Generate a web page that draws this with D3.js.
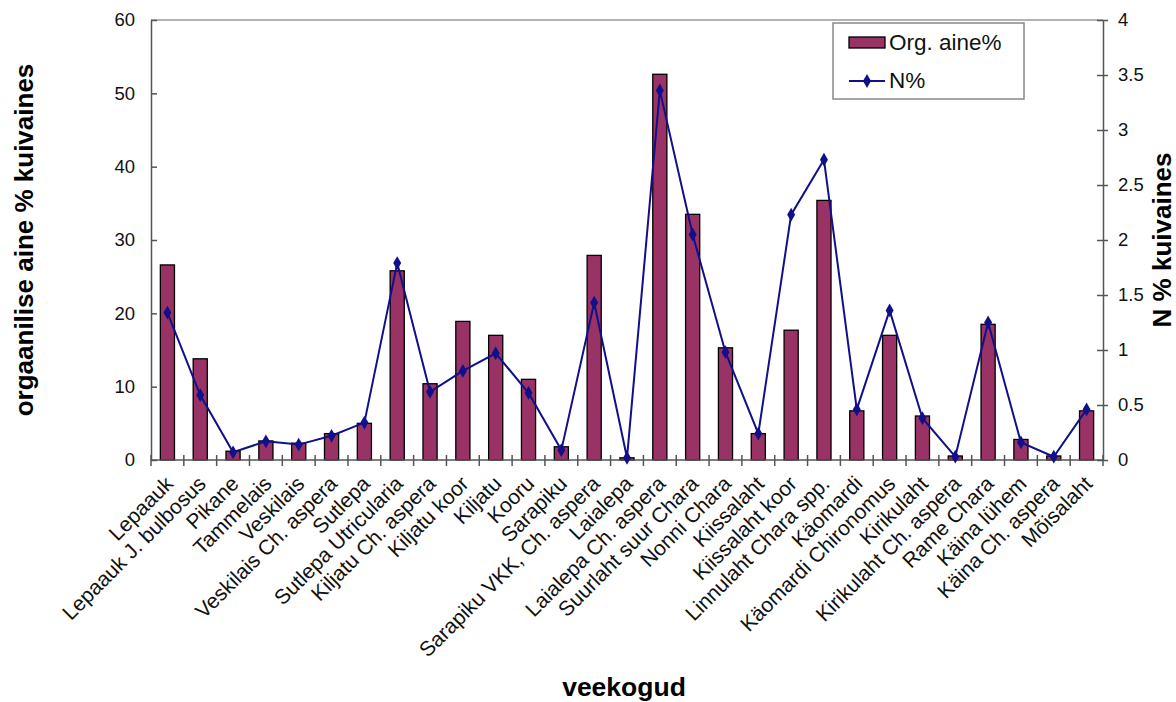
<!DOCTYPE html>
<html>
<head>
<meta charset="utf-8">
<script src="https://cdn.jsdelivr.net/npm/d3@7/dist/d3.min.js"></script>
<style>
  html, body { margin: 0; padding: 0; background: #fff; }
  svg { display: block; font-family: "Liberation Sans", Arial, sans-serif; }
</style>
</head>
<body>
<svg id="chart" width="1176" height="702"></svg>
<script>
// Water bodies (veekogud)
const categories = [
  "Lepaauk", "Lepaauk J. bulbosus", "Pikane", "Tammelais", "Veskilais",
  "Veskilais Ch. aspera", "Sutlepa", "Sutlepa Utricularia", "Kiljatu Ch. aspera",
  "Kiljatu koor", "Kiljatu", "Kooru", "Sarapiku", "Sarapiku VKK, Ch. aspera",
  "Laialepa", "Laialepa Ch. aspera", "Suurlaht suur Chara", "Nonni Chara",
  "Kiissalaht", "Kiissalaht koor", "Linnulaht Chara spp.", "Käomardi",
  "Käomardi Chironomus", "Kirikulaht", "Kirikulaht Ch. aspera", "Rame Chara",
  "Käina lühem", "Käina Ch. aspera", "Mõisalaht"
];

// Organic matter, % of dry matter (left axis)
const orgAine = [
  26.6, 13.8, 1.2, 2.6, 2.3, 3.6, 5.0, 25.8, 10.4, 18.9,
  17.0, 11.0, 1.8, 27.9, 0.3, 52.6, 33.5, 15.3, 3.6, 17.7,
  35.4, 6.7, 17.0, 6.0, 0.55, 18.5, 2.8, 0.55, 6.7
];

// Nitrogen, % of dry matter (right axis)
const nPct = [
  1.34, 0.59, 0.07, 0.17, 0.14, 0.22, 0.34, 1.79, 0.62, 0.81,
  0.97, 0.61, 0.09, 1.43, 0.02, 3.36, 2.05, 0.98, 0.24, 2.23,
  2.73, 0.46, 1.36, 0.38, 0.03, 1.25, 0.16, 0.03, 0.46
];

const leftTicks = [0, 10, 20, 30, 40, 50, 60];
const rightTicks = [0, 0.5, 1, 1.5, 2, 2.5, 3, 3.5, 4];

const seriesNames = ["Org. aine%", "N%"];
const axisTitles = {
  left: "orgaanilise aine % kuivaines",
  right: "N % kuivaines",
  bottom: "veekogud"
};

const svg = d3.select("#chart");
const plot = { left: 151, right: 1103, top: 20, bottom: 460 };

const x = d3.scaleBand()
  .domain(categories)
  .range([plot.left, plot.right])
  .paddingInner(0).paddingOuter(0);

const yL = d3.scaleLinear().domain([0, 60]).range([plot.bottom, plot.top]);
const yR = d3.scaleLinear().domain([0, 4]).range([plot.bottom, plot.top]);

const barColor = "#993366";
const lineColor = "#10108a";
const axisColor = "#555";

// top frame line
svg.append("line")
  .attr("x1", plot.left).attr("x2", plot.right)
  .attr("y1", plot.top).attr("y2", plot.top)
  .attr("stroke", "#999").attr("stroke-width", 1.5);

// bars
const barW = x.bandwidth() * 0.43;
svg.append("g").selectAll("rect")
  .data(categories)
  .join("rect")
  .attr("x", (d) => x(d) + x.bandwidth() / 2 - barW / 2)
  .attr("y", (d, i) => yL(orgAine[i]))
  .attr("width", barW)
  .attr("height", (d, i) => yL(0) - yL(orgAine[i]))
  .attr("fill", barColor)
  .attr("stroke", "#000")
  .attr("stroke-width", 1.3);

// left axis
const leftAxis = d3.axisLeft(yL).tickValues(leftTicks).tickSizeInner(5).tickSizeOuter(0).tickPadding(11);
const gL = svg.append("g").attr("transform", `translate(${plot.left},0)`).call(leftAxis);
gL.selectAll(".tick line").attr("x2", 6);
// right axis
const rightAxis = d3.axisRight(yR).tickValues(rightTicks).tickSizeInner(5).tickSizeOuter(0).tickPadding(10)
  .tickFormat(d3.format("~g"));
const gR = svg.append("g").attr("transform", `translate(${plot.right},0)`).call(rightAxis);
gR.selectAll(".tick line").attr("x1", -6);
// bottom axis: category separators crossing the axis
const gB = svg.append("g");
gB.append("line")
  .attr("x1", plot.left).attr("x2", plot.right)
  .attr("y1", plot.bottom).attr("y2", plot.bottom);
gB.selectAll("line.sep")
  .data(d3.range(categories.length + 1))
  .join("line")
  .attr("class", "sep")
  .attr("x1", (i) => plot.left + i * x.step())
  .attr("x2", (i) => plot.left + i * x.step())
  .attr("y1", plot.bottom - 5).attr("y2", plot.bottom + 6);
gB.selectAll("line").attr("stroke", axisColor).attr("stroke-width", 1.5);

[gL, gR].forEach((g) => {
  g.select(".domain").attr("stroke", axisColor).attr("stroke-width", 1.5);
  g.selectAll(".tick line").attr("stroke", axisColor).attr("stroke-width", 1.5);
  g.selectAll(".tick text")
    .attr("font-size", 18.5)
    .attr("font-family", "'Liberation Sans', Arial, sans-serif")
    .attr("fill", "#111");
});

// category labels
svg.append("g").selectAll("text")
  .data(categories)
  .join("text")
  .attr("transform", (d) => `translate(${x(d) + x.bandwidth() / 2 + 7},${plot.bottom + 25}) rotate(-45)`)
  .attr("text-anchor", "end")
  .attr("font-size", 21)
  .attr("fill", "#111")
  .text((d) => d);

// N% line with diamond markers
const cx = (i) => x(categories[i]) + x.bandwidth() / 2;
const line = d3.line().x((d, i) => cx(i)).y((d) => yR(d));
svg.append("path")
  .datum(nPct)
  .attr("d", line)
  .attr("fill", "none")
  .attr("stroke", lineColor)
  .attr("stroke-width", 2);

const diamond = d3.symbol().type(d3.symbolDiamond).size(55);
svg.append("g").selectAll("path")
  .data(nPct)
  .join("path")
  .attr("transform", (d, i) => `translate(${cx(i)},${yR(d)})`)
  .attr("d", diamond)
  .attr("fill", lineColor);

// axis titles
svg.append("text")
  .attr("transform", `translate(33,${(plot.top + plot.bottom) / 2}) rotate(-90)`)
  .attr("text-anchor", "middle")
  .attr("font-size", 26).attr("font-weight", "bold")
  .text(axisTitles.left);

svg.append("text")
  .attr("transform", `translate(1171,${(plot.top + plot.bottom) / 2}) rotate(-90)`)
  .attr("text-anchor", "middle")
  .attr("font-size", 26).attr("font-weight", "bold")
  .text(axisTitles.right);

svg.append("text")
  .attr("x", 624)
  .attr("y", 696)
  .attr("text-anchor", "middle")
  .attr("font-size", 26.5).attr("font-weight", "bold")
  .text(axisTitles.bottom);

// legend
const lg = svg.append("g").attr("transform", "translate(833,23)");
lg.append("rect")
  .attr("width", 191).attr("height", 76)
  .attr("fill", "#fff").attr("stroke", "#888").attr("stroke-width", 1.5);
lg.append("rect")
  .attr("x", 16).attr("y", 14).attr("width", 36).attr("height", 11)
  .attr("fill", barColor).attr("stroke", "#000").attr("stroke-width", 1.3);
lg.append("text")
  .attr("x", 56).attr("y", 27)
  .attr("font-size", 22.5).attr("fill", "#111")
  .text(seriesNames[0]);
lg.append("line")
  .attr("x1", 16).attr("x2", 52).attr("y1", 58).attr("y2", 58)
  .attr("stroke", lineColor).attr("stroke-width", 2);
lg.append("path")
  .attr("transform", "translate(34,58)")
  .attr("d", diamond)
  .attr("fill", lineColor);
lg.append("text")
  .attr("x", 56).attr("y", 65)
  .attr("font-size", 22.5).attr("fill", "#111")
  .text(seriesNames[1]);
</script>
</body>
</html>
